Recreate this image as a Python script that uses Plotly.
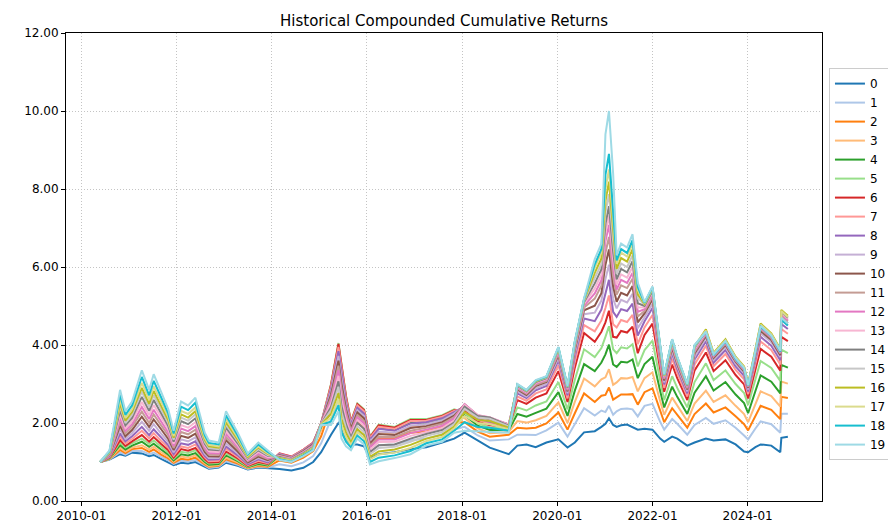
import plotly.graph_objects as go

dates = ["2010-05-25","2010-08-05","2010-10-25","2010-12-05","2011-01-25","2011-04-10","2011-06-05","2011-07-10","2011-09-05","2011-10-30","2011-12-10","2012-02-05","2012-03-30","2012-05-25","2012-08-05","2012-09-05","2012-11-20","2013-01-15","2013-04-15","2013-07-01","2013-09-20","2013-12-01",
"2014-03-01","2014-06-01","2014-09-01","2014-11-15","2015-01-15","2015-04-01","2015-05-28","2015-06-20","2015-07-25","2015-09-01","2015-10-20","2015-12-10","2016-01-25","2016-04-01","2016-08-01","2016-12-01","2017-04-01","2017-08-01","2017-11-01",
"2018-01-20","2018-05-01","2018-08-01","2018-12-25",
"2019-03-01","2019-05-10","2019-07-20","2019-10-10","2020-01-10","2020-03-20","2020-05-15","2020-07-25",
"2020-10-15","2020-12-05",
"2021-01-05","2021-02-01","2021-03-05",
"2021-04-01","2021-05-05","2021-06-20","2021-08-01","2021-09-10",
"2021-11-01","2022-01-01","2022-03-01","2022-04-01","2022-06-01","2022-07-10","2022-09-25","2022-11-20",
"2023-02-15","2023-04-15","2023-07-15","2023-10-01","2023-12-05","2024-01-05","2024-03-01","2024-04-10","2024-07-01","2024-09-08","2024-09-16","2024-11-05"]

s0 = [1.00,1.06,1.20,1.16,1.24,1.22,1.15,1.18,1.08,1.00,0.92,0.98,0.96,1.00,0.88,0.83,0.86,0.98,0.90,0.81,0.86,0.85,
0.82,0.78,0.85,1.00,1.25,1.70,2.00,1.90,1.60,1.45,1.45,1.40,1.10,1.20,1.25,1.33,1.38,1.50,1.60,
1.75,1.55,1.37,1.20,
1.42,1.45,1.38,1.50,1.58,1.37,1.50,1.76,
1.79,1.90,
1.98,2.12,1.95,
1.90,1.94,1.96,1.90,1.83,
1.85,1.83,1.60,1.52,1.65,1.60,1.42,1.50,
1.60,1.55,1.58,1.45,1.27,1.25,1.38,1.45,1.42,1.25,1.62,1.65]
s1 = [1.00,1.07,1.25,1.19,1.28,1.28,1.20,1.24,1.13,1.04,0.95,1.03,1.01,1.05,0.91,0.85,0.88,1.02,0.93,0.82,0.88,0.86,
0.94,0.89,0.99,1.15,1.48,2.09,2.62,2.38,1.93,1.63,1.77,1.69,1.27,1.43,1.45,1.56,1.60,1.71,1.83,
1.90,1.68,1.55,1.58,
1.70,1.70,1.69,1.81,2.01,1.65,1.97,2.38,
2.19,2.32,
2.28,2.44,2.21,
2.30,2.36,2.37,2.35,2.17,
2.44,2.49,2.03,1.83,2.10,1.98,1.70,1.95,
2.13,1.98,2.07,1.88,1.68,1.58,1.86,2.04,1.97,1.75,2.24,2.24]
s2 = [1.00,1.08,1.31,1.23,1.33,1.36,1.26,1.32,1.19,1.09,0.98,1.08,1.06,1.11,0.94,0.88,0.90,1.07,0.96,0.84,0.90,0.88,
1.04,0.98,1.11,1.28,1.66,2.42,3.13,2.78,2.21,1.78,2.03,1.92,1.40,1.62,1.61,1.75,1.78,1.89,2.01,
2.02,1.78,1.65,1.70,
1.88,1.86,1.88,1.99,2.27,1.83,2.25,2.76,
2.54,2.70,
2.72,2.91,2.60,
2.65,2.73,2.73,2.74,2.47,
2.79,2.89,2.30,2.02,2.38,2.21,1.88,2.23,
2.50,2.27,2.40,2.17,1.97,1.81,2.19,2.44,2.34,2.10,2.67,2.64]
s3 = [1.00,1.08,1.37,1.27,1.37,1.43,1.32,1.39,1.25,1.14,1.01,1.14,1.11,1.17,0.97,0.90,0.92,1.11,0.99,0.85,0.92,0.90,
1.12,1.05,1.20,1.37,1.81,2.66,3.52,3.08,2.41,1.89,2.23,2.10,1.51,1.76,1.73,1.90,1.91,2.02,2.16,
2.12,1.86,1.74,1.77,
2.05,2.01,2.07,2.18,2.53,2.00,2.54,3.14,
2.94,3.12,
3.17,3.38,2.98,
3.04,3.15,3.14,3.18,2.81,
3.15,3.30,2.56,2.21,2.65,2.44,2.05,2.50,
2.83,2.54,2.71,2.44,2.23,2.02,2.49,2.81,2.69,2.42,3.06,3.01]
s4 = [1.00,1.09,1.43,1.32,1.42,1.52,1.39,1.47,1.32,1.19,1.04,1.20,1.17,1.23,1.00,0.93,0.95,1.17,1.02,0.87,0.95,0.91,
1.17,1.09,1.26,1.44,1.90,2.83,3.78,3.29,2.56,1.97,2.36,2.23,1.58,1.86,1.82,2.00,2.01,2.11,2.25,
2.20,1.93,1.82,1.82,
2.23,2.16,2.26,2.37,2.79,2.18,2.83,3.51,
3.33,3.55,
3.76,4.01,3.50,
3.44,3.57,3.55,3.63,3.15,
3.51,3.70,2.82,2.40,2.93,2.67,2.23,2.78,
3.20,2.83,3.05,2.73,2.51,2.25,2.82,3.22,3.06,2.76,3.49,3.42]
s5 = [1.00,1.10,1.50,1.37,1.48,1.60,1.46,1.55,1.39,1.24,1.08,1.26,1.23,1.30,1.04,0.96,0.98,1.22,1.05,0.88,0.98,0.93,
1.20,1.12,1.30,1.48,2.00,3.00,4.05,3.50,2.70,2.05,2.50,2.35,1.65,1.96,1.90,2.10,2.10,2.20,2.35,
2.27,1.99,1.88,1.86,
2.40,2.32,2.45,2.55,3.05,2.35,3.11,3.89,
3.69,3.92,
4.21,4.48,3.89,
3.79,3.94,3.91,4.02,3.45,
3.87,4.11,3.09,2.59,3.20,2.90,2.40,3.05,
3.53,3.10,3.35,3.00,2.77,2.46,3.12,3.59,3.41,3.08,3.88,3.79]
s6 = [1.00,1.11,1.56,1.41,1.53,1.69,1.52,1.64,1.46,1.30,1.11,1.33,1.29,1.36,1.07,0.99,1.00,1.27,1.09,0.90,1.00,0.95,
1.22,1.14,1.32,1.50,1.98,2.98,4.03,3.48,2.68,2.03,2.48,2.33,1.63,1.94,1.88,2.08,2.08,2.18,2.33,
2.33,2.04,1.94,1.89,
2.59,2.49,2.65,2.76,3.33,2.54,3.42,4.31,
4.08,4.34,
4.58,4.88,4.21,
4.19,4.36,4.32,4.47,3.79,
4.26,4.55,3.38,2.80,3.50,3.15,2.59,3.35,
3.81,3.33,3.61,3.23,2.99,2.63,3.37,3.90,3.70,3.34,4.21,4.10]
s7 = [1.00,1.13,1.65,1.47,1.59,1.80,1.61,1.74,1.54,1.37,1.16,1.40,1.36,1.45,1.12,1.02,1.03,1.34,1.13,0.92,1.03,0.97,
1.21,1.13,1.31,1.49,2.00,2.94,3.95,3.39,2.62,2.01,2.45,2.30,1.61,1.90,1.85,2.05,2.06,2.16,2.31,
2.38,2.08,1.99,1.91,
2.68,2.57,2.76,2.86,3.48,2.63,3.58,4.51,
4.35,4.63,
4.95,5.27,4.53,
4.45,4.64,4.59,4.77,4.02,
4.45,4.77,3.52,2.90,3.65,3.28,2.68,3.50,
3.98,3.46,3.77,3.36,3.12,2.74,3.52,4.09,3.87,3.50,4.41,4.29]
s8 = [1.00,1.14,1.73,1.53,1.66,1.90,1.69,1.84,1.63,1.43,1.20,1.48,1.44,1.53,1.16,1.06,1.07,1.40,1.17,0.94,1.07,0.99,
1.20,1.12,1.30,1.48,1.99,2.87,3.84,3.27,2.54,1.96,2.39,2.24,1.57,1.85,1.80,1.99,2.02,2.12,2.28,
2.42,2.12,2.03,1.93,
2.76,2.64,2.84,2.95,3.60,2.71,3.71,4.68,
4.61,4.91,
5.32,5.67,4.85,
4.72,4.92,4.87,5.06,4.24,
4.61,4.95,3.64,2.99,3.78,3.39,2.76,3.63,
4.09,3.55,3.87,3.45,3.21,2.81,3.62,4.21,3.98,3.61,4.54,4.41]
s9 = [1.00,1.15,1.83,1.59,1.74,2.03,1.80,1.97,1.73,1.51,1.25,1.58,1.53,1.63,1.21,1.10,1.10,1.48,1.22,0.97,1.10,1.02,
1.19,1.11,1.29,1.46,1.99,2.80,3.72,3.14,2.45,1.91,2.33,2.18,1.52,1.78,1.75,1.93,1.97,2.07,2.24,
2.45,2.15,2.07,1.95,
2.81,2.68,2.89,3.00,3.67,2.76,3.79,4.79,
4.83,5.14,
5.69,6.06,5.18,
4.94,5.16,5.09,5.31,4.43,
4.71,5.06,3.71,3.04,3.85,3.45,2.81,3.70,
4.18,3.62,3.94,3.52,3.28,2.86,3.70,4.30,4.07,3.69,4.64,4.50]
s10 = [1.00,1.17,1.93,1.66,1.82,2.16,1.90,2.09,1.84,1.59,1.31,1.67,1.62,1.73,1.26,1.15,1.14,1.56,1.27,0.99,1.14,1.05,
1.18,1.10,1.28,1.45,1.99,2.73,3.60,3.01,2.36,1.86,2.27,2.12,1.47,1.72,1.69,1.87,1.92,2.02,2.19,
2.47,2.17,2.10,1.96,
2.86,2.72,2.95,3.05,3.74,2.81,3.87,4.89,
5.01,5.33,
6.06,6.45,5.50,
5.11,5.34,5.27,5.51,4.58,
4.81,5.17,3.78,3.09,3.93,3.51,2.86,3.78,
4.23,3.67,4.00,3.57,3.32,2.90,3.75,4.36,4.13,3.74,4.70,4.56]
s11 = [1.00,1.18,2.03,1.73,1.90,2.29,2.00,2.22,1.94,1.68,1.36,1.77,1.71,1.83,1.32,1.19,1.18,1.64,1.33,1.02,1.18,1.08,
1.16,1.09,1.26,1.43,1.98,2.65,3.47,2.87,2.27,1.80,2.20,2.05,1.42,1.65,1.64,1.80,1.88,1.98,2.15,
2.48,2.19,2.12,1.96,
2.89,2.75,2.98,3.08,3.78,2.84,3.92,4.96,
5.19,5.52,
6.36,6.77,5.76,
5.29,5.53,5.46,5.70,4.73,
4.87,5.24,3.83,3.13,3.98,3.55,2.89,3.83,
4.27,3.70,4.03,3.60,3.35,2.92,3.79,4.41,4.17,3.78,4.75,4.61]
s12 = [1.00,1.19,2.12,1.80,1.97,2.41,2.10,2.34,2.04,1.76,1.41,1.86,1.79,1.92,1.37,1.23,1.22,1.72,1.38,1.04,1.22,1.10,
1.15,1.08,1.25,1.42,1.98,2.58,3.35,2.74,2.18,1.75,2.14,1.99,1.37,1.58,1.58,1.74,1.83,1.93,2.11,
2.48,2.20,2.14,1.96,
2.91,2.77,3.01,3.11,3.82,2.86,3.96,5.01,
5.32,5.66,
6.66,7.08,6.01,
5.42,5.67,5.59,5.85,4.85,
4.92,5.30,3.87,3.16,4.01,3.59,2.91,3.86,
4.30,3.72,4.06,3.62,3.37,2.94,3.81,4.44,4.20,3.81,4.79,4.64]
s13 = [1.00,1.21,2.22,1.87,2.05,2.54,2.20,2.46,2.15,1.84,1.47,1.95,1.88,2.02,1.42,1.28,1.26,1.80,1.43,1.06,1.26,1.13,
1.14,1.07,1.24,1.40,1.98,2.50,3.21,2.59,2.08,1.69,2.07,1.92,1.31,1.51,1.52,1.67,1.77,1.87,2.06,
2.46,2.20,2.15,1.95,
2.94,2.79,3.03,3.13,3.86,2.89,4.00,5.06,
5.45,5.80,
6.88,7.32,6.21,
5.55,5.81,5.73,6.00,4.96,
4.97,5.35,3.90,3.18,4.05,3.62,2.94,3.90,
4.33,3.74,4.09,3.64,3.40,2.96,3.84,4.47,4.23,3.83,4.82,4.67]
s14 = [1.00,1.22,2.32,1.94,2.13,2.67,2.31,2.59,2.25,1.92,1.52,2.05,1.97,2.12,1.47,1.32,1.30,1.88,1.48,1.09,1.30,1.16,
1.13,1.06,1.23,1.39,1.97,2.41,3.07,2.44,1.97,1.63,2.00,1.85,1.25,1.43,1.45,1.60,1.72,1.82,2.01,
2.42,2.18,2.14,1.93,
2.95,2.81,3.05,3.15,3.88,2.90,4.02,5.10,
5.58,5.94,
7.10,7.56,6.40,
5.68,5.95,5.86,6.15,5.07,
5.00,5.39,3.93,3.20,4.08,3.64,2.95,3.93,
4.36,3.77,4.11,3.67,3.42,2.97,3.86,4.50,4.26,3.86,4.85,4.70]
s15 = [1.00,1.24,2.42,2.00,2.21,2.80,2.41,2.71,2.35,2.00,1.57,2.14,2.06,2.22,1.52,1.36,1.33,1.96,1.53,1.11,1.33,1.18,
1.11,1.05,1.21,1.37,1.97,2.33,2.93,2.28,1.87,1.57,1.92,1.77,1.20,1.36,1.39,1.52,1.67,1.77,1.97,
2.36,2.14,2.11,1.91,
2.97,2.82,3.07,3.17,3.90,2.92,4.05,5.13,
5.72,6.08,
7.40,7.87,6.66,
5.82,6.09,6.00,6.30,5.19,
5.04,5.43,3.95,3.22,4.10,3.66,2.97,3.95,
4.37,3.78,4.12,3.68,3.43,2.98,3.88,4.52,4.27,3.87,4.87,4.72]
s16 = [1.00,1.25,2.50,2.06,2.28,2.90,2.49,2.82,2.44,2.07,1.62,2.22,2.14,2.30,1.57,1.40,1.37,2.02,1.57,1.13,1.37,1.21,
1.10,1.04,1.20,1.35,1.96,2.23,2.77,2.11,1.75,1.50,1.84,1.69,1.13,1.27,1.32,1.44,1.60,1.70,1.91,
2.28,2.08,2.05,1.88,
2.98,2.83,3.07,3.18,3.91,2.93,4.06,5.15,
5.85,6.22,
7.69,8.19,6.92,
5.95,6.23,6.14,6.45,5.30,
5.05,5.45,3.96,3.22,4.11,3.67,2.98,3.96,
4.40,3.80,4.15,3.70,3.45,3.00,3.90,4.55,4.30,3.90,4.90,4.75]
s17 = [1.00,1.26,2.60,2.13,2.35,3.03,2.60,2.94,2.54,2.15,1.67,2.31,2.23,2.40,1.62,1.44,1.40,2.10,1.62,1.16,1.40,1.23,
1.08,1.03,1.18,1.34,1.96,2.14,2.62,1.94,1.63,1.44,1.76,1.61,1.07,1.19,1.24,1.36,1.54,1.64,1.86,
2.18,2.00,1.97,1.84,
2.98,2.84,3.08,3.18,3.93,2.93,4.07,5.17,
5.98,6.37,
7.99,8.50,7.18,
6.08,6.37,6.27,6.59,5.41,
5.07,5.46,3.98,3.23,4.13,3.68,2.98,3.98,
4.37,3.78,4.12,3.68,3.43,2.98,3.88,4.52,4.27,3.87,4.87,4.72]
s18 = [1.00,1.28,2.72,2.21,2.45,3.18,2.71,3.08,2.66,2.24,1.73,2.42,2.33,2.52,1.68,1.49,1.45,2.19,1.68,1.19,1.45,1.26,
1.07,1.01,1.17,1.32,1.95,2.04,2.46,1.77,1.52,1.37,1.68,1.53,1.00,1.11,1.17,1.28,1.48,1.58,1.80,
2.02,1.90,1.88,1.80,
2.99,2.84,3.09,3.19,3.94,2.94,4.09,5.18,
6.07,6.46,
8.36,8.90,7.50,
6.17,6.46,6.36,6.69,5.49,
5.08,5.48,3.99,3.24,4.14,3.69,2.99,3.99,
4.33,3.74,4.09,3.64,3.40,2.96,3.84,4.47,4.23,3.83,4.65,4.50]
s19 = [1.00,1.30,2.85,2.30,2.55,3.35,2.85,3.25,2.80,2.35,1.80,2.55,2.45,2.65,1.75,1.55,1.50,2.30,1.75,1.22,1.50,1.30,
1.05,1.00,1.15,1.30,1.95,1.95,2.30,1.60,1.40,1.30,1.60,1.45,0.94,1.02,1.10,1.20,1.42,1.52,1.75,
1.80,1.78,1.78,1.75,
3.00,2.85,3.10,3.20,3.95,2.95,4.10,5.20,
6.20,6.60,
9.40,10.00,8.40,
6.30,6.60,6.50,6.84,5.60,
5.10,5.50,4.00,3.25,4.15,3.70,3.00,4.00,
4.34,3.76,4.10,3.66,3.41,2.97,3.85,4.49,4.24,3.85,4.70,4.55]

series_names = [str(i) for i in range(20)]
series_values = [s0, s1, s2, s3, s4, s5, s6, s7, s8, s9, s10, s11, s12, s13, s14, s15, s16, s17, s18, s19]
colors = ["#1f77b4", "#aec7e8", "#ff7f0e", "#ffbb78", "#2ca02c", "#98df8a", "#d62728", "#ff9896",
          "#9467bd", "#c5b0d5", "#8c564b", "#c49c94", "#e377c2", "#f7b6d2", "#7f7f7f", "#c7c7c7",
          "#bcbd22", "#dbdb8d", "#17becf", "#9edae5"]

x_ticks = ["2010-01-01", "2012-01-01", "2014-01-01", "2016-01-01", "2018-01-01", "2020-01-01", "2022-01-01", "2024-01-01"]
y_ticks = [0, 2, 4, 6, 8, 10, 12]

fig = go.Figure()
for name, vals, col in zip(series_names, series_values, colors):
    fig.add_trace(go.Scatter(x=dates, y=vals, mode="lines", name=name,
                             line=dict(color=col, width=2)))

axis_common = dict(showgrid=True, gridcolor="#c4c4c4", griddash="1px,2px", gridwidth=1,
                   showline=True, linecolor="black", linewidth=1, mirror=True,
                   ticks="outside", ticklen=4, tickcolor="black", zeroline=False,
                   tickfont=dict(family="DejaVu Sans", size=12, color="black"))

fig.update_layout(
    width=896, height=527,
    margin=dict(l=58, r=78, t=25, b=30),
    paper_bgcolor="white", plot_bgcolor="white",
    font=dict(family="DejaVu Sans", size=12, color="black"),
    title=dict(text="Historical Compounded Cumulative Returns", x=0.5, xref="paper",
               xanchor="center", y=1 - 12.5 / 527, yref="container", yanchor="middle",
               font=dict(family="DejaVu Sans", size=15, color="black")),
    xaxis=dict(type="date", range=["2009-09-05", "2025-07-25"], tickvals=x_ticks,
               tickformat="%Y-%m", **axis_common),
    yaxis=dict(range=[0, 12], tickvals=y_ticks, tickformat=".2f", **axis_common),
    legend=dict(x=1.0092, xanchor="left", y=0.925, yanchor="top",
                bordercolor="#cccccc", borderwidth=1, bgcolor="white",
                font=dict(family="DejaVu Sans", size=12, color="black"),
                itemwidth=30, tracegroupgap=0),
    showlegend=True,
)

fig.write_html("out.html")
